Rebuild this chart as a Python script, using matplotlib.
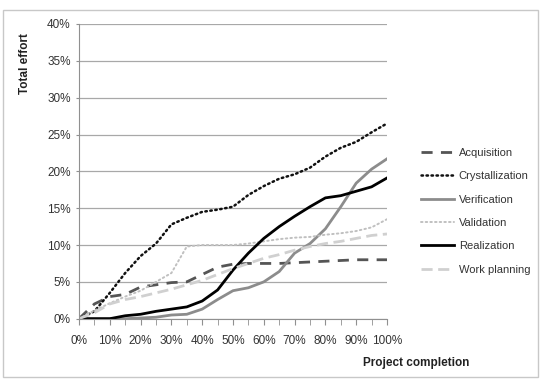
import matplotlib.pyplot as plt
from matplotlib.patches import Rectangle

plt.rcParams['font.family'] = ['Liberation Sans', 'DejaVu Sans']

completion = [0, 5, 10, 15, 20, 25, 30, 35, 40, 45, 50,
              55, 60, 65, 70, 75, 80, 85, 90, 95, 100]

acquisition = [0, 2.0, 3.0, 3.3, 4.3, 4.6, 4.9, 5.0, 6.0, 7.0, 7.4,
               7.5, 7.5, 7.5, 7.6, 7.7, 7.8, 7.9, 8.0, 8.0, 8.0]
crystallization = [0, 1.0, 3.5, 6.2, 8.5, 10.2, 12.8, 13.7, 14.5, 14.8, 15.2,
                   16.8, 18.0, 19.0, 19.6, 20.5, 22.0, 23.2, 24.0, 25.3, 26.5]
verification = [0, 0, 0, 0, 0.1, 0.2, 0.5, 0.6, 1.3, 2.6, 3.8,
                4.2, 5.0, 6.4, 8.9, 10.2, 12.2, 15.2, 18.4, 20.3, 21.7]
validation = [0, 1.1, 2.1, 3.0, 3.8, 5.0, 6.2, 9.8, 10.0, 10.0, 10.0,
              10.2, 10.5, 10.8, 11.0, 11.1, 11.4, 11.6, 11.9, 12.4, 13.5]
realization = [0, 0, 0, 0.4, 0.6, 1.0, 1.3, 1.6, 2.4, 3.9, 6.6,
               8.9, 10.9, 12.5, 13.9, 15.2, 16.4, 16.7, 17.3, 17.9, 19.1]
work_planning = [0, 0.8, 2.0, 2.6, 3.0, 3.5, 4.0, 4.6, 5.2, 6.0, 6.8,
                 7.5, 8.2, 8.7, 9.3, 9.8, 10.2, 10.5, 10.9, 11.3, 11.5]

series = [
    ("Acquisition", acquisition, dict(color="#555555", lw=2.0, linestyle=(0, (4, 3)))),
    ("Crystallization", crystallization, dict(color="#111111", lw=1.8, linestyle=(0, (0.6, 1.4)), dash_capstyle="round")),
    ("Verification", verification, dict(color="#8c8c8c", lw=2.0, linestyle="-")),
    ("Validation", validation, dict(color="#c0c0c0", lw=1.4, linestyle=(0, (0.8, 1.6)), dash_capstyle="round")),
    ("Realization", realization, dict(color="#000000", lw=2.0, linestyle="-")),
    ("Work planning", work_planning, dict(color="#d0d0d0", lw=2.0, linestyle=(0, (4, 2)))),
]

fig = plt.figure(figsize=(5.48, 3.81), dpi=100)
fig.patches.append(Rectangle((0.006, 0.01), 0.976, 0.963, transform=fig.transFigure,
                             fill=False, edgecolor="#c8c8c8", lw=1.0))
ax = fig.add_axes([79 / 548, 1 - 318.7 / 381, 308 / 548, 294.7 / 381])

for name, vals, style in series:
    ax.plot(completion, vals, label=name, **style)

ax.set_xlim(0, 100)
ax.set_ylim(0, 40)
ax.set_yticks(range(0, 41, 5))
ax.set_yticklabels([f"{v}%" for v in range(0, 41, 5)])
ax.set_xticks(range(0, 101, 10))
ax.set_xticklabels([f"{v}%" for v in range(0, 101, 10)])
ax.set_xticks(range(5, 100, 10), minor=True)
ax.grid(axis="y", color="#a8a8a8", lw=0.9)
ax.set_axisbelow(True)
for s in ["top", "right"]:
    ax.spines[s].set_visible(False)
for s in ["left", "bottom"]:
    ax.spines[s].set_color("#909090")
ax.tick_params(axis="y", length=2, color="#909090", labelsize=8.5, pad=4, labelcolor="#333333")
ax.tick_params(axis="x", which="both", length=4, color="#909090", labelsize=8.5, pad=8, labelcolor="#333333")

fig.text(25 / 548, 1 - 64 / 381, "Total effort", rotation=90, ha="center", va="center",
         fontsize=8.5, fontweight="bold", color="#222222")
fig.text(416 / 548, 1 - 363 / 381, "Project completion", ha="center", va="center",
         fontsize=8.5, fontweight="bold", color="#222222")

ax.legend(loc="upper left", bbox_to_anchor=(411 / 548, 1 - 138 / 381),
          bbox_transform=fig.transFigure, frameon=False, fontsize=8,
          handlelength=3.0, handletextpad=0.4, labelspacing=1.2,
          labelcolor="#333333")

fig.savefig("out.png", dpi=100)
